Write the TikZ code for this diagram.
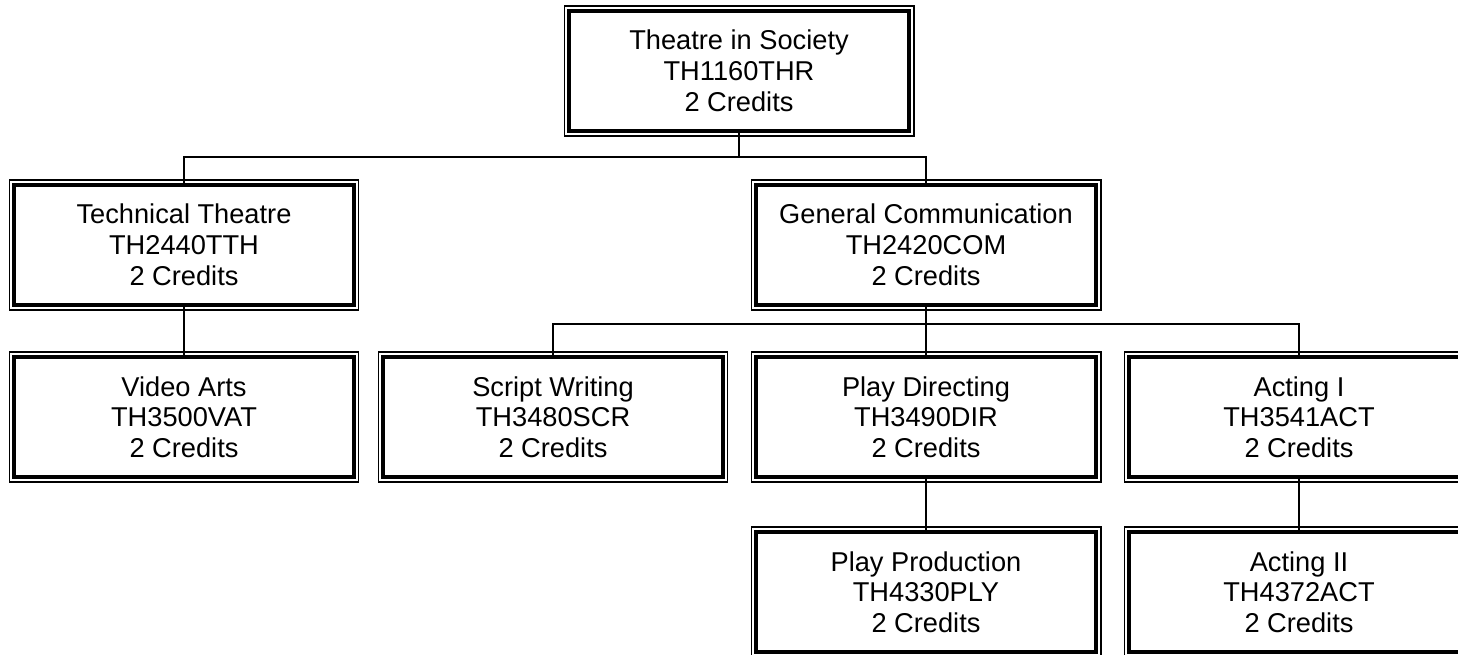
\documentclass[tikz,border=0pt]{standalone}
\usepackage{fontspec}
\setmainfont{Liberation Sans}
\begin{document}
\begin{tikzpicture}[x=0.02cm,y=-0.02cm]
        \tikzstyle{course}=[rectangle,draw=black,line width=0.09cm,outer sep=0pt,minimum width=6.8cm,minimum height=2.4cm,align=center,font=\fontsize{15.5}{17.5}\selectfont]
        \tikzstyle{frame}=[draw=black,line width=0.6pt]
        \tikzstyle{edge}=[draw,line width=0.6pt]
        \clip (0,0) rectangle (1458,654);
        % courses
        \node [course] (soc) at (739,71) {Theatre in Society\\TH1160THR\\2 Credits};
        \node [course] (tech) at (184,245) {Technical Theatre\\TH2440TTH\\2 Credits};
        \node [course] (gen) at (926,245) {General Communication\\TH2420COM\\2 Credits};
        \node [course] (video) at (184,417) {Video Arts\\TH3500VAT\\2 Credits};
        \node [course] (script) at (553,417) {Script Writing\\TH3480SCR\\2 Credits};
        \node [course] (dir) at (926,417) {Play Directing\\TH3490DIR\\2 Credits};
        \node [course] (act1) at (1299,417) {Acting I\\TH3541ACT\\2 Credits};
        \node [course] (prod) at (926,592) {Play Production\\TH4330PLY\\2 Credits};
        \node [course] (act2) at (1299,592) {Acting II\\TH4372ACT\\2 Credits};
        % thin outer lines
        \foreach \c in {soc,tech,gen,video,script,dir,act1,prod,act2}
          \draw[frame] ([shift={(-5,-5)}]\c.north west) rectangle ([shift={(5,5)}]\c.south east);
        % prerequisites
        \coordinate (b1) at (739,157);
        \coordinate (b2) at (926,324);
        \path[edge] (soc.south) -- (b1) -| (tech.north);
        \path[edge] (b1) -| (gen.north);
        \path[edge] (tech.south) -- (video.north);
        \path[edge] (gen.south) -- (b2) -| (script.north);
        \path[edge] (b2) -- (dir.north);
        \path[edge] (b2) -| (act1.north);
        \path[edge] (dir.south) -- (prod.north);
        \path[edge] (act1.south) -- (act2.north);
\end{tikzpicture}
\end{document}
